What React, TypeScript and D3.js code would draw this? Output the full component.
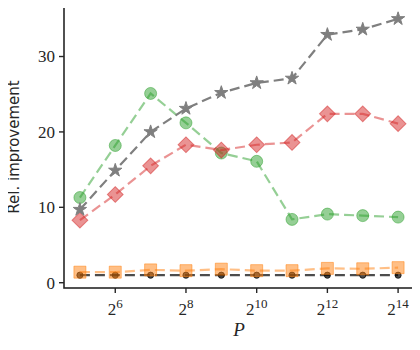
import React, { useEffect, useRef } from "react";
import * as d3 from "d3";

const exponents = [5, 6, 7, 8, 9, 10, 11, 12, 13, 14];
const xTickExps = [6, 8, 10, 12, 14];
const yTicks = [0, 10, 20, 30];

const baseline = [1.0, 1.0, 1.0, 1.0, 1.0, 1.0, 1.0, 1.0, 1.0, 1.0];
const orangeVals = [1.4, 1.4, 1.7, 1.6, 1.8, 1.6, 1.6, 1.9, 1.85, 2.0];
const greenVals = [11.3, 18.2, 25.1, 21.2, 17.2, 16.1, 8.4, 9.1, 8.9, 8.7];
const redVals = [8.3, 11.7, 15.5, 18.3, 17.6, 18.3, 18.6, 22.4, 22.4, 21.1];
const grayVals = [9.7, 14.9, 20.0, 23.1, 25.2, 26.5, 27.1, 32.9, 33.6, 35.0];

const App = () => {
  const svgRef = useRef<SVGSVGElement>(null);

  useEffect(() => {
    const svg = d3.select(svgRef.current);
    svg.selectAll("*").remove();

    const width = 420,
      height = 350;
    const left = 64,
      right = 414,
      top = 6,
      bottom = 288;

    const x = d3.scaleLinear().domain([4.55, 14.45]).range([left, right]);
    const y = d3.scaleLinear().domain([-0.7, 36.7]).range([bottom, top]);

    svg.attr("width", width).attr("height", height);

    const line = d3
      .line<number>()
      .x((d, i) => x(exponents[i]))
      .y((d) => y(d));

    const series = [
      { vals: baseline, color: "#000", alpha: 0.7, marker: "dot" },
      { vals: orangeVals, color: "#ff7f0e", alpha: 0.5, marker: "square" },
      { vals: greenVals, color: "#2ca02c", alpha: 0.5, marker: "circle" },
      { vals: redVals, color: "#d62728", alpha: 0.5, marker: "diamond" },
      { vals: grayVals, color: "#7f7f7f", alpha: 1, marker: "star" },
    ];

    const plot = svg.append("g");

    const symbolFor = (m: string) => {
      if (m === "square") return d3.symbol(d3.symbolSquare, 144)();
      if (m === "circle") return d3.symbol(d3.symbolCircle, 113)();
      if (m === "diamond") return d3.symbol(d3.symbolSquare, 125)();
      if (m === "star") return d3.symbol(d3.symbolStar, 55)();
      return d3.symbol(d3.symbolCircle, 30)();
    };

    series.forEach((s) => {
      const g = plot.append("g");
      g.append("path")
        .datum(s.vals)
        .attr("d", line)
        .attr("fill", "none")
        .attr("stroke", s.color)
        .attr("stroke-opacity", s.alpha)
        .attr("stroke-width", 2.2)
        .attr("stroke-dasharray", "10,5");
      g.selectAll("path.m")
        .data(s.vals)
        .enter()
        .append("path")
        .attr("class", "m")
        .attr("d", symbolFor(s.marker))
        .attr(
          "transform",
          (d, i) =>
            `translate(${x(exponents[i])},${y(d)})` +
            (s.marker === "diamond" ? " rotate(45)" : "")
        )
        .attr("fill", s.color)
        .attr("fill-opacity", s.alpha)
        .attr("stroke", s.color)
        .attr("stroke-opacity", s.alpha)
        .attr("stroke-width", 1);
    });

    // frame
    svg
      .append("rect")
      .attr("x", left)
      .attr("y", top)
      .attr("width", right - left)
      .attr("height", bottom - top)
      .attr("fill", "none")
      .attr("stroke", "#262626")
      .attr("stroke-width", 1.6);

    const font = "'Liberation Serif', 'DejaVu Serif', serif";

    const yAxis = svg.append("g");
    yTicks.forEach((t) => {
      yAxis
        .append("line")
        .attr("x1", left - 5)
        .attr("x2", left)
        .attr("y1", y(t))
        .attr("y2", y(t))
        .attr("stroke", "#262626")
        .attr("stroke-width", 1.4);
      yAxis
        .append("text")
        .attr("x", left - 9)
        .attr("y", y(t))
        .attr("dy", "0.35em")
        .attr("text-anchor", "end")
        .attr("font-family", font)
        .attr("font-size", 17)
        .attr("fill", "#262626")
        .text(t);
    });

    const xAxis = svg.append("g");
    xTickExps.forEach((e) => {
      xAxis
        .append("line")
        .attr("x1", x(e))
        .attr("x2", x(e))
        .attr("y1", bottom)
        .attr("y2", bottom + 5)
        .attr("stroke", "#262626")
        .attr("stroke-width", 1.4);
      const t = xAxis
        .append("text")
        .attr("x", x(e))
        .attr("y", bottom + 27)
        .attr("text-anchor", "middle")
        .attr("font-family", font)
        .attr("font-size", 17)
        .attr("fill", "#262626");
      t.append("tspan").text("2");
      t.append("tspan")
        .attr("dy", -7)
        .attr("font-size", 13)
        .text(e);
    });

    svg
      .append("text")
      .attr("x", (left + right) / 2)
      .attr("y", 336)
      .attr("text-anchor", "middle")
      .attr("font-family", font)
      .attr("font-style", "italic")
      .attr("font-size", 19)
      .attr("fill", "#262626")
      .text("P");

    svg
      .append("text")
      .attr("transform", `translate(19,${(top + bottom) / 2}) rotate(-90)`)
      .attr("text-anchor", "middle")
      .attr("font-family", "'DejaVu Sans', sans-serif")
      .attr("font-size", 15)
      .attr("fill", "#262626")
      .text("Rel. improvement");
  }, []);

  return (
    <div style={{ margin: -8 }}>
      <svg ref={svgRef}></svg>
    </div>
  );
};

export default App;
